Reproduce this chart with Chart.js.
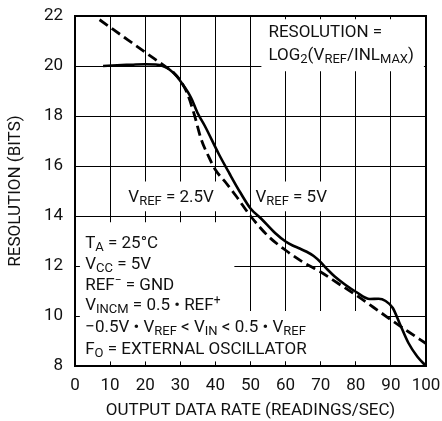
<!DOCTYPE html>
<html lang="en">
<head>
  <meta charset="UTF-8" />
  <title>Resolution vs Output Data Rate</title>
  <script src="https://cdn.jsdelivr.net/npm/chart.js"></script>
  <style>
    body {
      margin: 0;
      padding: 0;
      background: #ffffff;
    }
    #wrap {
      width: 442px;
      height: 421px;
    }
  </style>
</head>
<body>
  <div id="wrap"><canvas id="resChart" width="442" height="421"></canvas></div>

  <script>
    // axis ticks
    const xTicks = [0, 10, 20, 30, 40, 50, 60, 70, 80, 90, 100];
    const yTicks = [8, 10, 12, 14, 16, 18, 20, 22];

    // VREF = 5V (solid)
    const solidX = [8, 12, 16, 20, 23, 25, 27, 29, 31, 33, 35, 37, 41, 44, 47, 50, 53, 57, 60, 62, 64, 66, 68, 70, 72, 74, 77, 80, 84, 86.5, 88.5, 90.5, 92.5, 95, 97.5, 100];
    const solidY = [20.0, 20.03, 20.05, 20.07, 20.06, 20.0, 19.85, 19.58, 19.2, 18.75, 18.1, 17.6, 16.47, 15.7, 14.96, 14.3, 13.9, 13.32, 12.98, 12.82, 12.7, 12.57, 12.4, 12.15, 11.85, 11.58, 11.25, 10.97, 10.68, 10.69, 10.6, 10.33, 9.7, 8.92, 8.38, 8.0];

    // VREF = 2.5V (dashed)
    const dashX = [7, 14, 20, 25, 28, 30, 32, 34, 36, 38, 40, 43, 46, 50, 55, 60, 65, 70, 75, 80, 85, 90, 95, 100];
    const dashY = [21.85, 21.15, 20.55, 20.05, 19.75, 19.42, 18.9, 18.05, 17.05, 16.4, 15.85, 15.33, 14.78, 14.0, 13.2, 12.63, 12.15, 11.76, 11.3, 10.84, 10.35, 9.85, 9.37, 8.9];

    const FONT = 'Roboto, "Liberation Sans", sans-serif';
    const INK = '#111';

    // white patches behind the notes (data units: x0, x1, yTop, yBottom)
    const boxes = [
      [53.1, 99.4, 21.87, 19.79],
      [15.1, 41.1, 15.38, 14.19],
      [50.9, 73.7, 15.38, 14.19],
      [1.4, 45.4, 13.75, 8.19],
      [1.4, 88.6, 10.2, 8.19]
    ];

    // notes: [x, y(baseline), parts]  parts: [text, kind] kind '' normal, 's' sub, 'p' sup
    const notes = [
      [55.1, 21.15, [['RESOLUTION =', '']]],
      [55.1, 20.23, [['LOG', ''], ['2', 's'], ['(V', ''], ['REF', 's'], ['/INL', ''], ['MAX', 's'], [')', '']]],
      [15.2, 14.56, [['V', ''], ['REF', 's'], [' = 2.5V', '']]],
      [51.4, 14.56, [['V', ''], ['REF', 's'], [' = 5V', '']]],
      [2.9, 12.72, [['T', ''], ['A', 's'], [' = 25°C', '']]],
      [2.9, 11.9, [['V', ''], ['CC', 's'], [' = 5V', '']]],
      [2.9, 11.03, [['REF', ''], ['\u2212', 'p'], [' = GND', '']]],
      [2.9, 10.23, [['V', ''], ['INCM', 's'], [' = 0.5 \u2022 REF', ''], ['+', 'p']]],
      [2.9, 9.36, [['\u22120.5V \u2022 V', ''], ['REF', 's'], [' < V', ''], ['IN', 's'], [' < 0.5 \u2022 V', ''], ['REF', 's']]],
      [2.9, 8.5, [['F', ''], ['O', 's'], [' = EXTERNAL OSCILLATOR', '']]]
    ];

    function drawRich(ctx, parts, x, y) {
      ctx.textBaseline = 'alphabetic';
      ctx.textAlign = 'left';
      ctx.fillStyle = INK;
      parts.forEach(([t, k]) => {
        let size = 17, dy = 0;
        if (k === 's') { size = 13; dy = 3; }
        if (k === 'p') { size = 12; dy = -6; }
        ctx.font = size + 'px ' + FONT;
        ctx.fillText(t, x, y + dy);
        x += ctx.measureText(t).width;
      });
    }

    const overlay = {
      id: 'overlay',
      beforeDatasetsDraw(chart) {
        const {ctx, scales: {x, y}} = chart;
        ctx.save();
        ctx.fillStyle = '#ffffff';
        boxes.forEach(b => {
          const l = x.getPixelForValue(b[0]), r = x.getPixelForValue(b[1]);
          const t = y.getPixelForValue(b[2]), btm = y.getPixelForValue(b[3]);
          ctx.fillRect(l, t, r - l, btm - t);
        });
        ctx.restore();
      },
      afterDatasetsDraw(chart) {
        const {ctx, chartArea: a, scales: {x, y}} = chart;
        ctx.save();
        notes.forEach(n => drawRich(ctx, n[2], x.getPixelForValue(n[0]), y.getPixelForValue(n[1])));
        ctx.strokeStyle = '#000';
        ctx.lineWidth = 2;
        ctx.strokeRect(a.left, a.top, a.right - a.left, a.bottom - a.top);
        ctx.restore();
      }
    };

    const pts = (xs, ys) => xs.map((v, i) => ({x: v, y: ys[i]}));

    new Chart(document.getElementById('resChart').getContext('2d'), {
      type: 'line',
      data: {
        datasets: [
          {
            label: 'VREF = 5V',
            data: pts(solidX, solidY),
            borderColor: '#000',
            borderWidth: 2.6,
            pointRadius: 0,
            cubicInterpolationMode: 'monotone'
          },
          {
            label: 'VREF = 2.5V',
            data: pts(dashX, dashY),
            borderColor: '#000',
            borderWidth: 2.8,
            borderDash: [10, 5],
            pointRadius: 0,
            cubicInterpolationMode: 'monotone'
          }
        ]
      },
      options: {
        responsive: false,
        animation: false,
        layout: { padding: { top: 16, right: 16, left: 0, bottom: 0 } },
        plugins: {
          legend: { display: false },
          tooltip: { enabled: false }
        },
        scales: {
          x: {
            type: 'linear', min: 0, max: 100,
            afterBuildTicks: s => { s.ticks = xTicks.map(v => ({value: v})); },
            // fixed box, no label overflow padding
            afterFit: s => { s.height = 55; s.paddingLeft = 0; s.paddingRight = 0; },
            ticks: { color: INK, font: { family: FONT, size: 17 }, padding: 10, maxRotation: 0 },
            grid: { color: '#000', lineWidth: 1, drawTicks: false },
            border: { display: false },
            title: { display: true, text: 'OUTPUT DATA RATE (READINGS/SEC)', color: INK, font: { family: FONT, size: 17 }, padding: { top: 0, bottom: 0 } }
          },
          y: {
            type: 'linear', min: 8, max: 22,
            afterBuildTicks: s => { s.ticks = yTicks.map(v => ({value: v})); },
            afterFit: s => { s.width = 75; s.paddingTop = 0; s.paddingBottom = 0; },
            ticks: { color: INK, font: { family: FONT, size: 17 }, padding: 12 },
            grid: { color: '#000', lineWidth: 1, drawTicks: false },
            border: { display: false },
            title: { display: true, text: 'RESOLUTION (BITS)', color: INK, font: { family: FONT, size: 17 }, padding: { top: 6, bottom: 0 } }
          }
        }
      },
      plugins: [overlay]
    });
  </script>
</body>
</html>
